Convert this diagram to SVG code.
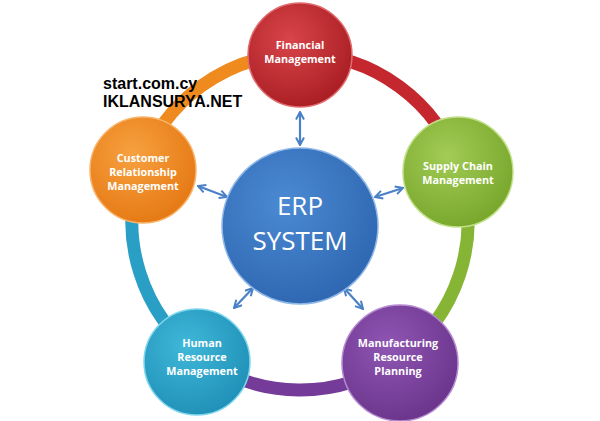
<svg xmlns="http://www.w3.org/2000/svg" width="600" height="421" viewBox="0 0 600 421">
<defs>
<style>
.ring{fill:none;stroke-width:13;stroke-linecap:butt}
.lbl{font-family:"Open Sans","Noto Sans",sans-serif;font-weight:bold;font-size:10.8px;fill:#ffffff;text-anchor:middle}
.wm{font-family:"Liberation Sans",Arial,sans-serif;font-weight:bold;font-size:16px;fill:#000000}
.erp{font-family:"Open Sans","Noto Sans",sans-serif;font-size:26px;fill:#ffffff;text-anchor:middle}
.arr{stroke:#4a80c6;stroke-width:2.2;fill:none;marker-start:url(#ah);marker-end:url(#ah)}
</style>
<marker id="ah" viewBox="0 0 10 10" refX="9" refY="5" markerWidth="10" markerHeight="10" markerUnits="userSpaceOnUse" orient="auto-start-reverse">
<path d="M1.5,1 L9,5 L1.5,9" fill="none" stroke="#4a80c6" stroke-width="2"/>
</marker>
<radialGradient id="gRed" cx="0.4" cy="0.35" r="0.7"><stop offset="0" stop-color="#d8454a"/><stop offset="1" stop-color="#a81d22"/></radialGradient>
<radialGradient id="gOr" cx="0.4" cy="0.35" r="0.7"><stop offset="0" stop-color="#f7a140"/><stop offset="1" stop-color="#e57812"/></radialGradient>
<radialGradient id="gGr" cx="0.4" cy="0.35" r="0.7"><stop offset="0" stop-color="#a2cc55"/><stop offset="1" stop-color="#77a52a"/></radialGradient>
<radialGradient id="gTe" cx="0.4" cy="0.35" r="0.7"><stop offset="0" stop-color="#3fb8d9"/><stop offset="1" stop-color="#1f8fb6"/></radialGradient>
<radialGradient id="gPu" cx="0.4" cy="0.35" r="0.7"><stop offset="0" stop-color="#8f55b3"/><stop offset="1" stop-color="#6a348b"/></radialGradient>
<radialGradient id="gBl" cx="0.4" cy="0.35" r="0.7"><stop offset="0" stop-color="#4b8ad3"/><stop offset="1" stop-color="#2e66b0"/></radialGradient>
</defs>
<rect width="600" height="421" fill="#ffffff"/>
<g id="connectors">
<path class="ring" stroke="#c4282e" d="M300,54 A168,168 0 0 1 460.1,171.2"/>
<path class="ring" stroke="#86b535" d="M460.1,171.2 A168,168 0 0 1 397.6,358.8"/>
<path class="ring" stroke="#743c98" d="M397.6,358.8 A168,168 0 0 1 199.8,356.9"/>
<path class="ring" stroke="#2a9fc6" d="M199.8,356.9 A168,168 0 0 1 140.5,169.2"/>
<path class="ring" stroke="#ef8a1e" d="M140.5,169.2 A168,168 0 0 1 300,54"/>
<line class="arr" x1="300" y1="112" x2="300" y2="145"/>
<line class="arr" x1="198" y1="186" x2="227" y2="197"/>
<line class="arr" x1="375" y1="197" x2="403" y2="188"/>
<line class="arr" x1="234" y1="308" x2="253" y2="288"/>
<line class="arr" x1="344" y1="288" x2="363" y2="309"/>
</g>
<g id="watermark">
<text class="wm" x="103" y="89">start.com.cy</text>
<text class="wm" x="103" y="107">IKLANSURYA.NET</text>
</g>
<g id="financial">
<circle cx="300" cy="55" r="52" fill="url(#gRed)" stroke="#e06a6e" stroke-width="1.5"/>
<text class="lbl" x="300" y="49">Financial</text>
<text class="lbl" x="300" y="63">Management</text>
</g>
<g id="crm">
<circle cx="143" cy="170" r="53" fill="url(#gOr)" stroke="#f8b46a" stroke-width="1.5"/>
<text class="lbl" x="143" y="162">Customer</text>
<text class="lbl" x="143" y="176">Relationship</text>
<text class="lbl" x="143" y="190">Management</text>
</g>
<g id="supply">
<circle cx="458" cy="172" r="55" fill="url(#gGr)" stroke="#c2e08a" stroke-width="1.5"/>
<text class="lbl" x="458" y="170">Supply Chain</text>
<text class="lbl" x="458" y="184">Management</text>
</g>
<g id="hr">
<circle cx="197" cy="362" r="53" fill="url(#gTe)" stroke="#7fd6ee" stroke-width="1.5"/>
<text class="lbl" x="202" y="347">Human</text>
<text class="lbl" x="202" y="361">Resource</text>
<text class="lbl" x="202" y="375">Management</text>
</g>
<g id="mrp">
<circle cx="400" cy="363" r="58" fill="url(#gPu)" stroke="#b68ad0" stroke-width="1.5"/>
<text class="lbl" x="398" y="347">Manufacturing</text>
<text class="lbl" x="398" y="361">Resource</text>
<text class="lbl" x="398" y="375">Planning</text>
</g>
<g id="erp">
<circle cx="300" cy="226" r="78" fill="url(#gBl)" stroke="#8fb8e8" stroke-width="1.5"/>
<text class="erp" x="300" y="215">ERP</text>
<text class="erp" x="300" y="250">SYSTEM</text>
</g>
</svg>
